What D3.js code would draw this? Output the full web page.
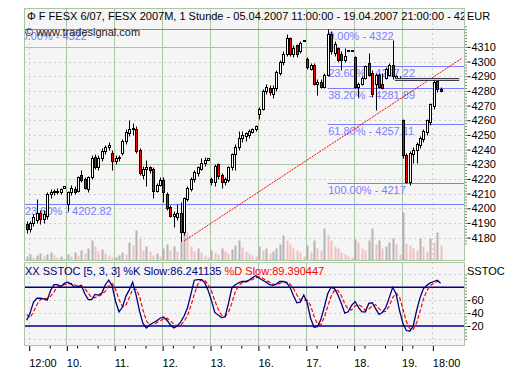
<!DOCTYPE html>
<html><head><meta charset="utf-8">
<script src="https://cdn.jsdelivr.net/npm/d3@7"></script>
<style>
body{margin:0;background:#fff}
svg{display:block}
text{font-family:"Liberation Sans",Arial,sans-serif;font-size:11px}
</style>
</head><body>
<svg id="chart" width="523" height="379"></svg>
<script>
// ---------------- DATA ----------------
const dayLabels = ["05.","10.","11.","12.","13.","16.","17.","18.","19."];
const dayFirstHour = [11,9,9,9,9,9,9,9,9];
const dayBarCount = [12,14,14,14,14,14,14,14,12];

const open = [
4189,4186,4190,4192,4197,4193,4195,4210,4211,4212,4211,4214,
4203,4211,4213,4212,4223,4220,4213,4221,4235,4228,4234,4239,4242,4238,
4232,4234,4238,4246,4251,4254,4254,4240,4223,4227,4228,4227,4212,4216,
4219,4210,4201,4195,4194,4197,4184,4206,4213,4220,4224,4227,4231,4233,
4220,4218,4230,4223,4218,4219,4228,4237,4242,4248,4249,4250,4252,4254,
4264,4268,4280,4282,4278,4282,4292,4300,4305,4316,4305,4311,4307,4314,
4302,4295,4298,4285,4286,4283,4291,4319,4306,4309,4305,4301,4307,4308,
4303,4283,4285,4289,4299,4292,4285,4291,4285,4289,4291,4298,4289,4289,
4260,4236,4218,4237,4240,4243,4247,4252,4259,4270,4287,4281];
const high = [
4191,4191,4196,4206,4199,4199,4211,4213,4213,4214,4214,4215,
4212,4216,4215,4222,4226,4221,4222,4236,4237,4236,4241,4243,4245,4240,
4236,4236,4247,4254,4260,4258,4256,4241,4229,4233,4229,4228,4217,4221,
4221,4211,4202,4198,4203,4204,4208,4215,4221,4226,4229,4234,4235,4234,
4221,4230,4231,4224,4221,4229,4238,4244,4253,4253,4252,4254,4255,4257,
4269,4281,4285,4284,4284,4294,4301,4307,4319,4317,4311,4312,4314,4315,
4303,4299,4299,4288,4288,4292,4322,4321,4314,4310,4307,4309,4308,4308,
4304,4286,4290,4298,4306,4294,4292,4292,4292,4296,4299,4315,4291,4290,
4261,4238,4239,4242,4245,4249,4254,4261,4272,4288,4289,4283];
const low = [
4183,4184,4188,4190,4189,4190,4193,4207,4209,4210,4210,4214,
4198,4209,4210,4211,4218,4213,4211,4220,4227,4226,4232,4237,4240,4226,
4230,4232,4236,4244,4249,4250,4238,4223,4220,4215,4224,4207,4211,4215,
4204,4199,4194,4187,4192,4178,4182,4205,4212,4218,4222,4226,4229,4233,
4216,4215,4220,4214,4216,4218,4226,4226,4240,4245,4246,4248,4251,4253,
4261,4267,4278,4277,4275,4280,4291,4298,4304,4304,4303,4303,4306,4314,
4295,4294,4284,4277,4282,4282,4290,4305,4304,4300,4294,4300,4307,4307,
4282,4276,4284,4288,4290,4276,4267,4282,4281,4288,4290,4288,4288,4289,
4234,4217,4216,4231,4231,4241,4245,4250,4257,4268,4279,4279];
const close = [
4186,4190,4194,4197,4193,4196,4210,4211,4212,4211,4213,4215,
4211,4214,4211,4221,4219,4214,4221,4234,4228,4234,4239,4242,4243,4232,
4234,4235,4246,4252,4254,4255,4239,4224,4227,4228,4226,4212,4216,4219,
4211,4200,4195,4196,4197,4184,4207,4214,4220,4225,4228,4231,4233,4234,
4218,4229,4222,4218,4220,4228,4237,4242,4248,4250,4251,4253,4254,4256,
4268,4280,4283,4279,4282,4293,4300,4305,4316,4305,4309,4305,4313,4315,
4296,4298,4285,4286,4283,4291,4319,4307,4312,4301,4301,4304,4308,4308,
4283,4285,4289,4297,4291,4278,4291,4283,4282,4295,4298,4290,4290,4289,
4236,4218,4238,4240,4244,4248,4253,4260,4271,4286,4281,4280];
const volume = [
4,6,3,5,7,4,6,8,5,3,4,2,
6,4,8,5,10,7,12,20,14,9,11,7,5,3,
3,5,8,6,18,15,30,23,10,14,9,5,7,4,
12,16,10,14,9,20,33,28,14,9,12,8,5,3,
10,8,6,12,9,7,11,15,20,13,9,7,5,4,
14,10,12,7,9,12,16,25,20,16,12,10,8,4,
15,8,20,12,10,32,25,20,14,12,8,6,4,3,
21,18,12,10,20,32,16,20,12,14,18,22,16,6,
48,17,15,12,10,22,14,9,22,18,28,15];
const stochK = [
29,40,57,63,63,62,60,75,84,84,81,86,
88,85,80,81,83,70,61,61,69,68,71,84,91,82,
58,42,49,66,76,88,68,43,24,17,22,25,28,32,
34,29,22,17,20,26,35,48,69,91,92,92,88,76,
60,41,37,33,34,55,79,84,87,89,89,91,95,98,
94,91,88,84,83,85,89,89,87,80,67,56,57,68,
56,32,18,19,30,49,70,80,78,68,55,40,42,52,
58,49,42,42,55,56,47,38,41,49,64,80,70,44,
24,13,12,20,44,64,78,83,87,89,91,86.24];
const stochD = [
38,33,42,53,61,63,62,66,73,81,83,84,
85,86,84,82,81,78,71,64,64,66,69,74,82,86,
77,61,50,52,64,77,77,66,45,28,21,21,25,28,
31,32,28,23,20,21,27,36,51,69,84,92,91,85,
75,59,46,37,35,41,56,73,83,87,88,90,92,95,
96,94,91,88,85,84,86,88,88,85,78,68,60,60,
60,52,35,23,22,33,50,66,76,75,67,54,46,45,
51,53,50,44,46,51,53,47,42,43,51,64,71,65,
46,27,16,15,25,43,62,75,83,86,89,89.39];

const priceTicks = [4310,4300,4290,4280,4270,4260,4250,4240,4230,4220,4210,4200,4190,4180];
const priceGridMajor = [4310,4230];
const stochTicks = [60,40,20];
const stochBands = [80,20];
const stochDotted = [100,60,40,0];
const fibLeft = [{label:"0.00% - 4322",price:4322},{label:"23.60% - 4202.82",price:4202.82}];
const fibRight = [
 {label:"0.00% - 4322",price:4322},
 {label:"23.60% - 4297.22",price:4297.22},
 {label:"38.20% - 4281.89",price:4281.89},
 {label:"61.80% - 4257.11",price:4257.11},
 {label:"100.00% - 4217",price:4217}];
const fibRightStart = {day:6, hour:15};
const trendLine = [{slot:48,price:4177.7},{slot:129.2,price:4302.2}];
const hBox = {slotFrom:109.8, slotTo:128.3, top:4289, bottom:4287.2};
const timeLabels = [{day:0,hour:12,text:"12:00"},{day:8,hour:18,text:"18:00"}];
const titleText = "\u03A6 F FESX 6/07, FESX 2007M, 1 Stunde - 05.04.2007 11:00:00 - 19.04.2007 21:00:00 - 428";
const unitText = "EUR";
const stochLabelK = "XX SSTOC [5, 3, 3] %K Slow:86.241135";
const stochLabelD = " %D Slow:89.390447";

// ---------------- BUILD ----------------
const bars = [];
{
  let i = 0;
  dayBarCount.forEach((n, d) => {
    for (let j = 0; j < n; j++) {
      const hour = dayFirstHour[d] + j;
      bars.push({slot: d*14 + (hour-9), o:open[i], h:high[i], l:low[i], c:close[i], v:volume[i], k:stochK[i], dd:stochD[i], prevV: i>0?volume[i-1]:volume[i]});
      i++;
    }
  });
}
const slotOf = (d,h) => d*14 + (h-9);

const svg = d3.select("#chart");
const P = {l:24.5, r:464.5, t:8.5, b:260.5};
const S = {t:262.5, b:345.5};

const x = d3.scaleLinear().domain([0, 126]).range([19.8, 19.8 + 126*3.421]);
const y = d3.scaleLinear().domain([4322, 4180]).range([29.3, 237.6]);
const yS = d3.scaleLinear().domain([0,100]).range([338.9, 274.4]);
const yV = d3.scaleLinear().domain([0,50]).range([0,50]);

const defs = svg.append("defs");
defs.append("clipPath").attr("id","clipMain").append("rect")
  .attr("x",P.l).attr("y",P.t).attr("width",P.r-P.l).attr("height",P.b-P.t);
defs.append("clipPath").attr("id","clipStoch").append("rect")
  .attr("x",P.l).attr("y",S.t).attr("width",P.r-P.l).attr("height",S.b-S.t);

const GREEN = "#abc5a5", DOT = "#a8a8a8", FIB = "#7c7cff";

svg.append("rect").attr("x",P.l).attr("y",P.t).attr("width",P.r-P.l).attr("height",P.b-P.t).attr("fill","#f5f5f5");
svg.append("rect").attr("x",P.l).attr("y",S.t).attr("width",P.r-P.l).attr("height",S.b-S.t).attr("fill","#f5f5f5");

const main = svg.append("g").attr("clip-path","url(#clipMain)");
const stoch = svg.append("g").attr("clip-path","url(#clipStoch)");

const px = v => Math.round(v) + 0.5;

main.selectAll(".hg").data(priceTicks).join("line")
  .attr("x1",P.l).attr("x2",P.r).attr("y1",d=>px(y(d))).attr("y2",d=>px(y(d)))
  .attr("stroke",d=>priceGridMajor.includes(d)?GREEN:DOT)
  .attr("stroke-dasharray",d=>priceGridMajor.includes(d)?null:"1,4");

const dayTickSlots = d3.range(1,9).map(d => d*14 - 0.4);
const timeTickSlots = timeLabels.map(t => slotOf(t.day,t.hour) - 0.4);
[main, stoch].forEach((g,gi) => {
  const y1 = gi===0?P.t:S.t, y2 = gi===0?P.b:S.b;
  g.selectAll(".vg").data(dayTickSlots).join("line")
    .attr("x1",d=>px(x(d))).attr("x2",d=>px(x(d))).attr("y1",y1).attr("y2",y2).attr("stroke",GREEN);
  g.selectAll(".vt").data(timeTickSlots).join("line")
    .attr("x1",d=>px(x(d))).attr("x2",d=>px(x(d))).attr("y1",y1).attr("y2",y2)
    .attr("stroke",DOT).attr("stroke-dasharray","1,4");
});

main.selectAll(".vol").data(bars).join("rect")
  .attr("x",d=>Math.round(x(d.slot))-0.5).attr("width",2)
  .attr("y",d=>P.b - yV(d.v)).attr("height",d=>yV(d.v))
  .attr("fill",d=>d.v>=d.prevV?"#b4b4b4":"#f0c0c0");

main.selectAll(".fl").data(fibLeft).join("line")
  .attr("x1",P.l).attr("x2",P.r).attr("y1",d=>px(y(d.price))).attr("y2",d=>px(y(d.price)))
  .attr("stroke",FIB);
main.selectAll(".flt").data(fibLeft).join("text")
  .attr("x",(d,i)=>i===0?21.5:25).attr("y",d=>y(d.price)+11)
  .attr("fill",FIB).text(d=>d.label);
const frx = x(slotOf(fibRightStart.day, fibRightStart.hour));
main.selectAll(".fr").data(fibRight).join("line")
  .attr("x1",frx).attr("x2",P.r).attr("y1",d=>px(y(d.price))).attr("y2",d=>px(y(d.price)))
  .attr("stroke",FIB);
main.selectAll(".frt").data(fibRight).join("text")
  .attr("x",frx+0.5).attr("y",d=>y(d.price)+11)
  .attr("fill",FIB).text(d=>d.label);

main.append("line")
  .attr("x1",x(trendLine[0].slot)).attr("y1",y(trendLine[0].price))
  .attr("x2",x(trendLine[1].slot)).attr("y2",y(trendLine[1].price))
  .attr("stroke","#ff0000").attr("stroke-dasharray","2,1");

const cg = main.append("g");
cg.selectAll(".wick").data(bars).join("line")
  .attr("x1",d=>Math.round(x(d.slot))+0.5).attr("x2",d=>Math.round(x(d.slot))+0.5)
  .attr("y1",d=>px(y(d.h))).attr("y2",d=>px(y(d.l))).attr("stroke","#000");
cg.selectAll(".body").data(bars).join("rect")
  .attr("x",d=>Math.round(x(d.slot))-0.5).attr("width",2)
  .attr("y",d=>px(y(Math.max(d.o,d.c))))
  .attr("height",d=>Math.max(1, px(y(Math.min(d.o,d.c))) - px(y(Math.max(d.o,d.c)))))
  .attr("fill",d=>d.c<d.o?"#ff0000":"#ffffff").attr("stroke","#000");

main.append("rect")
  .attr("x",x(hBox.slotFrom)).attr("y",px(y(hBox.top)))
  .attr("width",x(hBox.slotTo)-x(hBox.slotFrom)).attr("height",px(y(hBox.bottom))-px(y(hBox.top)))
  .attr("fill","#c8c8f4").attr("stroke","#3a3a4a");

main.append("text").attr("x",27).attr("y",20).attr("fill","#000").text(titleText);
main.append("text").attr("x",25).attr("y",35.5).attr("fill","#222").text("\u00A9 www.tradesignal.com");
svg.append("text").attr("x",467).attr("y",20).attr("fill","#000").text(unitText);

stoch.selectAll(".sd").data(stochDotted).join("line")
  .attr("x1",P.l).attr("x2",P.r).attr("y1",d=>px(yS(d))).attr("y2",d=>px(yS(d)))
  .attr("stroke",DOT).attr("stroke-dasharray","1,4");
stoch.selectAll(".sb").data(stochBands).join("line")
  .attr("x1",P.l).attr("x2",P.r).attr("y1",d=>yS(d)).attr("y2",d=>yS(d))
  .attr("stroke","#000080").attr("stroke-width",1.5);
const lineD = d3.line().x(d=>x(d.slot)).y(d=>yS(d.dd));
const lineK = d3.line().x(d=>x(d.slot)).y(d=>yS(d.k));
stoch.append("path").datum(bars).attr("d",lineD).attr("fill","none").attr("stroke","#ff0000").attr("stroke-width",1.2).attr("stroke-dasharray","4,2");
stoch.append("path").datum(bars).attr("d",lineK).attr("fill","none").attr("stroke","#000080").attr("stroke-width",1.3);
const sl = stoch.append("text").attr("x",25).attr("y",275);
sl.append("tspan").attr("fill","#000080").text(stochLabelK);
sl.append("tspan").attr("fill","#ff0000").text(stochLabelD);
svg.append("text").attr("x",467).attr("y",275).attr("fill","#000").text("SSTOC");

svg.append("rect").attr("x",P.l).attr("y",P.t).attr("width",P.r-P.l).attr("height",P.b-P.t).attr("fill","none").attr("stroke",GREEN);
svg.append("rect").attr("x",P.l).attr("y",S.t).attr("width",P.r-P.l).attr("height",S.b-S.t).attr("fill","none").attr("stroke",GREEN);

const minorP = d3.range(4176, 4326, 2);
const axP = d3.axisRight(y).tickValues(priceTicks).tickSize(3).tickPadding(1).tickFormat(d3.format("d"));
const gP = svg.append("g").attr("transform","translate(467.5,0)").call(axP);
gP.select(".domain").remove();
gP.selectAll("text").attr("font-size",11).attr("font-family","Liberation Sans, Arial, sans-serif").attr("fill","#000");
const gPm = svg.append("g").attr("transform","translate(465.5,0)").call(d3.axisRight(y).tickValues(minorP).tickSize(1).tickFormat(""));
gPm.select(".domain").remove();
const axS = d3.axisRight(yS).tickValues(stochTicks).tickSize(3).tickPadding(1);
const gS = svg.append("g").attr("transform","translate(467.5,0)").call(axS);
gS.select(".domain").remove();
gS.selectAll("text").attr("font-size",11).attr("font-family","Liberation Sans, Arial, sans-serif").attr("fill","#000");
const gSm = svg.append("g").attr("transform","translate(465.5,0)").call(d3.axisRight(yS).tickValues(d3.range(0,101,5)).tickSize(1).tickFormat(""));
gSm.select(".domain").remove();

const majorTicks = [
  {slot: timeTickSlots[0], text: timeLabels[0].text},
  ...dayTickSlots.map((s,i)=>({slot:s, text: dayLabels[i+1]})),
  {slot: timeTickSlots[1], text: timeLabels[1].text}];
const axB = d3.axisBottom(x).tickValues(majorTicks.map(d=>d.slot)).tickSize(5).tickPadding(8)
  .tickFormat((d,i)=>majorTicks[i].text);
const gB = svg.append("g").attr("transform",`translate(0,${S.b+0.5})`).call(axB);
gB.select(".domain").remove();
gB.selectAll("line").attr("transform","translate(0.5,0)");
gB.selectAll("text").attr("text-anchor","start").attr("font-size",11)
  .attr("font-family","Liberation Sans, Arial, sans-serif").attr("fill","#000").attr("dy","0.71em");
const minorB = [];
for (let d=0; d<9; d++) [12,18].forEach(h => { const s = slotOf(d,h)-0.4; if (!timeTickSlots.includes(s) && s>0 && s<125) minorB.push(s); });
const gBm = svg.append("g").attr("transform",`translate(0.5,${S.b+0.5})`).call(d3.axisBottom(x).tickValues(minorB).tickSize(2.5).tickFormat(""));
gBm.select(".domain").remove();
</script>
</body></html>
